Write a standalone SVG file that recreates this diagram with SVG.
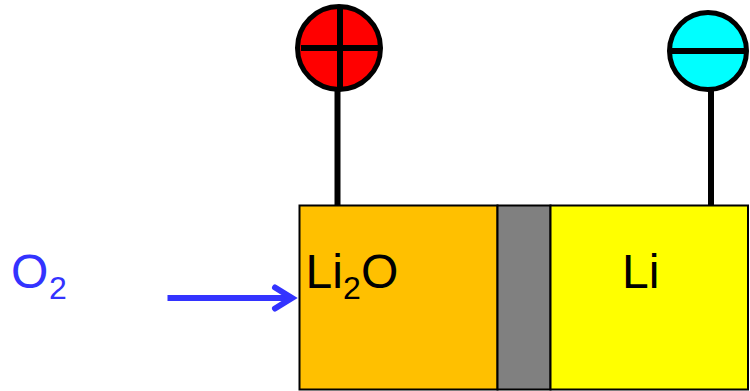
<svg xmlns="http://www.w3.org/2000/svg" width="750" height="391" viewBox="0 0 750 391">
<style>
.box{stroke:#000;stroke-width:2}
.term{stroke:#000;stroke-width:5}
.bar{stroke:#000;stroke-width:6;fill:none}
text{font-family:"Liberation Sans",Arial,sans-serif;font-size:48px;fill:#000}
.sub{font-size:32px}
.blue{fill:#3333ff}
.arrow{stroke:#3333ff;stroke-width:6;fill:none}
.head{stroke-linecap:round;stroke-linejoin:miter}
</style>
<rect width="750" height="391" fill="#fff"/>
<g id="cathode"><rect class="box" x="299.500" y="205.500" width="198" height="184" fill="#ffc000"/><text x="305.500" y="288">Li</text><text class="sub" x="343" y="299">2</text><text x="361" y="288">O</text></g>
<g id="separator"><rect class="box" x="497.500" y="205.500" width="53" height="184" fill="#808080"/></g>
<g id="anode"><rect class="box" x="550.500" y="205.500" width="197.500" height="184" fill="#ffff00"/><text x="622" y="288">Li</text></g>
<g id="connectors">
<line class="bar" x1="337.500" y1="90" x2="337.500" y2="205"/>
<line class="bar" x1="711" y1="90" x2="711" y2="205"/>
<path class="arrow" d="M167.500 298H291"/>
<path class="arrow head" d="M275 287.500L292 298L275 308.500"/>
</g>
<g id="positive-terminal"><circle class="term" cx="339" cy="48" r="41.500" fill="#ff0000"/><path class="bar" d="M301 48H380M340 8V88"/></g>
<g id="negative-terminal"><circle class="term" cx="708" cy="51" r="38.500" fill="#00ffff"/><path class="bar" d="M669 51H747"/></g>
<g id="oxygen-label"><text class="blue" x="11" y="288">O</text><text class="blue sub" x="49" y="299">2</text></g>
</svg>
